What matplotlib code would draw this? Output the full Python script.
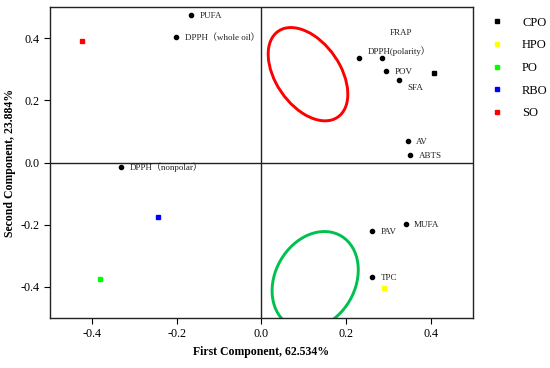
import matplotlib
matplotlib.use("Agg")
import matplotlib.pyplot as plt
from matplotlib.patches import Ellipse
from matplotlib.lines import Line2D

# loadings (variables)
var_names = ["PUFA", "DPPH（whole oil）", "DPPH（nonpolar）", "FRAP", "DPPH(polarity）",
             "POV", "SFA", "AV", "ABTS", "PAV", "MUFA", "TPC"]
var_x = [-0.167, -0.203, -0.331, 0.231, 0.284, 0.295, 0.326, 0.346, 0.350, 0.261, 0.342, 0.261]
var_y = [0.473, 0.403, -0.013, 0.336, 0.337, 0.295, 0.265, 0.070, 0.023, -0.219, -0.199, -0.369]

# scores (oil samples)
oils = ["CPO", "HPO", "PO", "RBO", "SO"]
oil_x = [0.408, 0.290, -0.382, -0.245, -0.424]
oil_y = [0.287, -0.403, -0.375, -0.176, 0.392]
oil_colors = ["black", "#ffff00", "#00ff00", "#0000ff", "#ff0000"]

# confidence ellipses: centre x, centre y, width, height, angle
ell_cx = [0.110, 0.127]
ell_cy = [0.284, -0.379]
ell_w = [0.315, 0.319]
ell_h = [0.162, 0.196]
ell_ang = [-69.2, 77.2]
ell_colors = ["#ff0000", "#00c050"]

# label offsets in pixels
offs = {"PUFA": (9, -1), "DPPH（whole oil）": (9, -1), "DPPH（nonpolar）": (8, -1),
        "FRAP": (31, 25), "DPPH(polarity）": (-14, 7), "POV": (9, -1), "SFA": (8, -8),
        "AV": (8, -1), "ABTS": (9, -1), "PAV": (9, -1), "MUFA": (8, -1), "TPC": (9, -1)}

serif = ["Liberation Serif", "Noto Sans CJK SC", "DejaVu Serif"]
plt.rcParams["font.family"] = serif

fig = plt.figure(figsize=(5.5, 3.68), dpi=100)
ax = fig.add_axes([0.0909, 0.1359, 0.769, 0.845])

ax.axhline(0, color="#222222", lw=1, zorder=1)
ax.axvline(0, color="#222222", lw=1, zorder=1)

for i in range(len(ell_cx)):
    e = Ellipse((ell_cx[i], ell_cy[i]), ell_w[i], ell_h[i], angle=ell_ang[i],
                fill=False, edgecolor=ell_colors[i], lw=2.1, zorder=2)
    ax.add_patch(e)

ax.plot(var_x, var_y, "o", color="black", ms=3, zorder=3)
for n, x, y in zip(var_names, var_x, var_y):
    ax.annotate(n, (x, y), xytext=offs[n], textcoords="offset pixels",
                fontsize=6.5, va="center", ha="left", color="#222222")

for n, x, y, c in zip(oils, oil_x, oil_y, oil_colors):
    ax.plot(x, y, "s", color=c, ms=3, zorder=3)

ax.set_xlim(-0.5, 0.5)
ax.set_ylim(-0.5, 0.5)
ax.set_xticks([-0.4, -0.2, 0.0, 0.2, 0.4])
ax.set_yticks([-0.4, -0.2, 0.0, 0.2, 0.4])
ax.set_xticklabels(["-0.4", "-0.2", "0.0", "0.2", "0.4"])
ax.set_yticklabels(["-0.4", "-0.2", "0.0", "0.2", "0.4"])
ax.tick_params(labelsize=8.75, direction="out", length=4, top=False, right=False)
for s in ax.spines.values():
    s.set_color("#222222")
    s.set_linewidth(1)

ax.set_xlabel("First Component, 62.534%", fontsize=8.5, fontweight="bold")
ax.set_ylabel("Second Component, 23.884%", fontsize=8.5, fontweight="bold", labelpad=3)

handles = [Line2D([], [], ls="", marker="s", ms=3, color=c) for c in oil_colors]
fig.legend(handles, oils, loc="upper left", bbox_to_anchor=(0.872, 0.985),
           frameon=False, fontsize=9, handlelength=1, handletextpad=1.5,
           labelspacing=0.85)

fig.savefig("out.png", dpi=100)
